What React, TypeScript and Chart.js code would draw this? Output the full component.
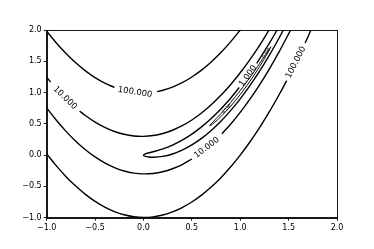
import React, { useEffect, useRef } from "react";
import { Chart, registerables } from "chart.js";

Chart.register(...registerables);

// ---- Data (x, y pairs in data units) ----
const xTickValues = [-1, -0.5, 0, 0.5, 1, 1.5, 2];
const xTickLabels = ["\u22121.0", "\u22120.5", "0.0", "0.5", "1.0", "1.5", "2.0"];
const yTickValues = [-1, -0.5, 0, 0.5, 1, 1.5, 2];
const yTickLabels = ["\u22121.0", "\u22120.5", "0.0", "0.5", "1.0", "1.5", "2.0"];

// level 100
const level100UpperA = [[-1, 1.98], [-0.9, 1.792], [-0.8, 1.624], [-0.7, 1.475], [-0.6, 1.347], [-0.5, 1.239], [-0.4, 1.15], [-0.3, 1.082]];
const level100UpperB = [[0.14, 1.016], [0.2, 1.037], [0.3, 1.088], [0.4, 1.158], [0.5, 1.249], [0.6, 1.359], [0.7, 1.49], [0.8, 1.64], [0.9, 1.81], [1.0, 2.0], [1.05, 2.1]];
const level100LowerA = [[-1, 0.02], [-0.9, -0.172], [-0.8, -0.344], [-0.7, -0.495], [-0.6, -0.627], [-0.5, -0.739], [-0.4, -0.83], [-0.3, -0.902], [-0.2, -0.953], [-0.1, -0.984], [0, -0.995], [0.1, -0.986], [0.2, -0.957], [0.3, -0.908], [0.4, -0.838], [0.5, -0.749], [0.6, -0.639], [0.7, -0.51], [0.8, -0.36], [0.9, -0.19], [1.0, 0.0], [1.1, 0.21], [1.2, 0.44], [1.3, 0.69], [1.4, 0.961], [1.48, 1.191]];
const level100LowerB = [[1.67, 1.791], [1.7, 1.892], [1.75, 2.066]];

// level 10
const level10UpperA = [[-1, 1.245], [-0.96, 1.17]];
const level10UpperB = [[-0.66, 0.705], [-0.6, 0.633], [-0.5, 0.528], [-0.4, 0.444], [-0.3, 0.378], [-0.2, 0.333], [-0.1, 0.306], [0, 0.3], [0.1, 0.313], [0.2, 0.346], [0.3, 0.398], [0.4, 0.47], [0.5, 0.562], [0.6, 0.674], [0.7, 0.805], [0.8, 0.956], [0.9, 1.126], [1.0, 1.316], [1.1, 1.526], [1.2, 1.756], [1.3, 2.005]];
const level10LowerA = [[-1, 0.755], [-0.9, 0.557], [-0.8, 0.38], [-0.7, 0.223], [-0.6, 0.087], [-0.5, -0.028], [-0.4, -0.124], [-0.3, -0.198], [-0.2, -0.253], [-0.1, -0.287], [0, -0.3], [0.1, -0.293], [0.2, -0.266], [0.3, -0.218], [0.4, -0.151], [0.5, -0.062]];
const level10LowerB = [[0.81, 0.34], [0.9, 0.494], [1.0, 0.684], [1.1, 0.894], [1.2, 1.124], [1.3, 1.375], [1.4, 1.646], [1.5, 1.938], [1.55, 2.091]];

// level 1
const level1A = [[0.99, 1.08], [0.9, 0.91], [0.8, 0.738], [0.7, 0.585], [0.6, 0.452], [0.5, 0.337], [0.4, 0.24], [0.3, 0.161], [0.2, 0.1], [0.1, 0.0536], [0.05, 0.0337], [0.02, 0.0203], [0, 0], [0.02, -0.0195], [0.05, -0.0287], [0.1, -0.0336], [0.2, -0.02], [0.3, 0.0186], [0.4, 0.08], [0.5, 0.163], [0.6, 0.268], [0.7, 0.395], [0.8, 0.542], [0.9, 0.711], [1.0, 0.9], [1.1, 1.111], [1.2, 1.342], [1.3, 1.595], [1.4, 1.868], [1.5, 2.163]];
const level1B = [[1.17, 1.467], [1.2, 1.538], [1.3, 1.785], [1.4, 2.052]];

// level 0.1 (thin closed loop along the valley)
const level01Loop = [[0.684, 0.468], [0.7, 0.5], [0.75, 0.582], [0.8, 0.6645], [0.9, 0.84], [1.0, 1.0316], [1.1, 1.24], [1.2, 1.4645], [1.25, 1.582], [1.3, 1.7], [1.316, 1.732], [1.3, 1.68], [1.25, 1.543], [1.2, 1.4155], [1.1, 1.18], [1.0, 0.9684], [0.9, 0.78], [0.8, 0.6155], [0.75, 0.543], [0.7, 0.48], [0.684, 0.468]];

// contour labels
const labelTexts = ["100.000", "100.000", "10.000", "10.000", "1.000"];
const labelXs = [-0.087, 1.575, -0.81, 0.655, 1.08];
const labelYs = [1.005, 1.482, 0.915, 0.12, 1.266];
const labelCurves = [
  level100UpperA.concat(level100UpperB),
  level100LowerA.concat(level100LowerB),
  level10UpperA.concat(level10UpperB),
  level10LowerA.concat(level10LowerB),
  level1A.slice(0, 1).reverse().concat(level1B),
];
// tiny labels on the 0.1 loop
const smallLabelTexts = ["0.100", "0.100"];
const smallLabelXs = [0.86, 1.27];
const smallLabelYs = [0.74, 1.63];

const segments = [
  level100UpperA, level100UpperB, level100LowerA, level100LowerB,
  level10UpperA, level10UpperB, level10LowerA, level10LowerB,
  level1A, level1B,
];

function toPts(arr: number[][]) {
  return arr.map((p) => ({ x: p[0], y: p[1] }));
}

function angleAt(chart: any, curve: number[][], x: number, y: number) {
  const xs = chart.scales.x;
  const ys = chart.scales.y;
  let best = 0;
  let bd = Infinity;
  curve.forEach((p, i) => {
    const d = (p[0] - x) ** 2 + (p[1] - y) ** 2;
    if (d < bd) { bd = d; best = i; }
  });
  const a = curve[Math.max(best - 1, 0)];
  const b = curve[Math.min(best + 1, curve.length - 1)];
  const dx = xs.getPixelForValue(b[0]) - xs.getPixelForValue(a[0]);
  const dy = ys.getPixelForValue(b[1]) - ys.getPixelForValue(a[1]);
  let ang = Math.atan2(dy, dx);
  if (ang > Math.PI / 2) ang -= Math.PI;
  if (ang < -Math.PI / 2) ang += Math.PI;
  return ang;
}

const labelPlugin = {
  id: "contourLabels",
  afterDatasetsDraw(chart: any) {
    const ctx = chart.ctx;
    const xs = chart.scales.x;
    const ys = chart.scales.y;
    ctx.save();
    ctx.fillStyle = "#000";
    ctx.textAlign = "center";
    ctx.textBaseline = "middle";
    ctx.font = '8.4px "DejaVu Sans"';
    labelTexts.forEach((t, i) => {
      const ang = angleAt(chart, labelCurves[i], labelXs[i], labelYs[i]);
      ctx.save();
      ctx.translate(xs.getPixelForValue(labelXs[i]), ys.getPixelForValue(labelYs[i]));
      ctx.rotate(ang);
      ctx.fillText(t, 0, 0);
      ctx.restore();
    });
    ctx.font = '4px "DejaVu Sans"';
    smallLabelTexts.forEach((t, i) => {
      const ang = angleAt(chart, level01Loop, smallLabelXs[i], smallLabelYs[i]);
      ctx.save();
      ctx.translate(xs.getPixelForValue(smallLabelXs[i]), ys.getPixelForValue(smallLabelYs[i]));
      ctx.rotate(ang);
      ctx.fillText(t, 0, 0);
      ctx.restore();
    });
    ctx.restore();
  },
  afterDraw(chart: any) {
    const { left, top, right, bottom } = chart.chartArea;
    const ctx = chart.ctx;
    ctx.save();
    ctx.strokeStyle = "#000";
    ctx.lineWidth = 0.9;
    ctx.strokeRect(Math.round(left) + 0.5, Math.round(top) + 0.5, Math.round(right) - Math.round(left), Math.round(bottom) - Math.round(top));
    ctx.restore();
  },
};

export default function App() {
  const ref = useRef<HTMLCanvasElement>(null);
  useEffect(() => {
    const lineStyle = {
      showLine: true,
      borderColor: "#000",
      backgroundColor: "#000",
      borderWidth: 1.4,
      pointRadius: 0,
      pointHoverRadius: 0,
      tension: 0.35,
      fill: false,
    };
    const datasets: any[] = segments.map((s) => ({ ...lineStyle, data: toPts(s) }));
    datasets.push({ ...lineStyle, borderWidth: 1.0, tension: 0.2, data: toPts(level01Loop) });

    const tickFont = { family: "DejaVu Sans", size: 8 };
    const chart = new Chart(ref.current!, {
      type: "scatter",
      data: { datasets },
      options: {
        animation: false,
        responsive: false,
        devicePixelRatio: 1,
        events: [],
        layout: { padding: { left: 0, top: 30, right: 37, bottom: 0 } },
        plugins: { legend: { display: false }, tooltip: { enabled: false } },
        scales: {
          x: {
            type: "linear",
            min: -1,
            max: 2,
            afterBuildTicks: (s: any) => { s.ticks = xTickValues.map((v) => ({ value: v })); },
            afterFit: (s: any) => { s.height = 31.3; },
            ticks: {
              color: "#000",
              font: tickFont,
              padding: 2,
              maxRotation: 0,
              autoSkip: false,
              callback: (v: any) => xTickLabels[xTickValues.indexOf(Number(v))] ?? "",
            },
            grid: { drawOnChartArea: false, drawTicks: true, tickLength: 3, tickColor: "#000", tickWidth: 0.9 },
            border: { display: true, color: "#000", width: 0.9 },
          },
          y: {
            type: "linear",
            min: -1,
            max: 2,
            afterBuildTicks: (s: any) => { s.ticks = yTickValues.map((v) => ({ value: v })); },
            afterFit: (s: any) => { s.width = 46.7; },
            ticks: {
              color: "#000",
              font: tickFont,
              padding: 2,
              autoSkip: false,
              callback: (v: any) => yTickLabels[yTickValues.indexOf(Number(v))] ?? "",
            },
            grid: { drawOnChartArea: false, drawTicks: true, tickLength: 3, tickColor: "#000", tickWidth: 0.9 },
            border: { display: true, color: "#000", width: 0.9 },
          },
        },
      },
      plugins: [labelPlugin],
    } as any);
    return () => chart.destroy();
  }, []);
  return (
    <div style={{ position: "absolute", left: 0, top: 0, width: 374, height: 249, background: "#fff" }}>
      <canvas ref={ref} width={374} height={249} style={{ display: "block", width: 374, height: 249 }} />
    </div>
  );
}
